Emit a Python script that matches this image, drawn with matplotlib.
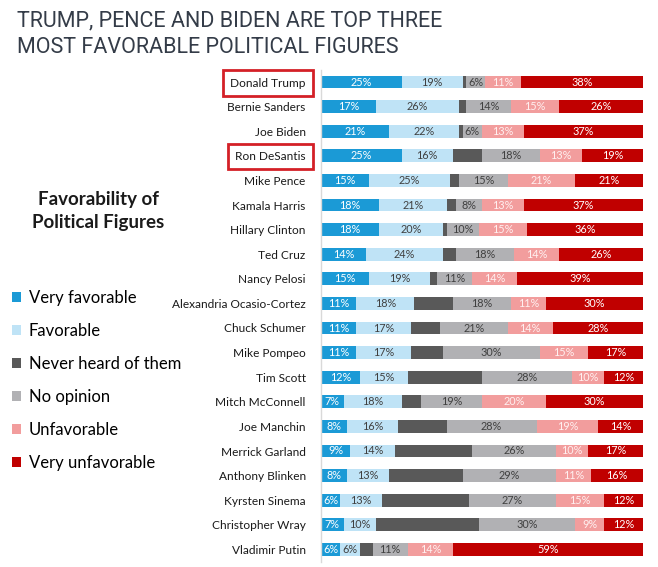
import matplotlib
matplotlib.use("Agg")
import matplotlib.pyplot as plt
from matplotlib.patches import Patch
import numpy as np

plt.rcParams['font.family'] = ['Lato', 'DejaVu Sans']

names = ["Donald Trump", "Bernie Sanders", "Joe Biden", "Ron DeSantis", "Mike Pence",
         "Kamala Harris", "Hillary Clinton", "Ted Cruz", "Nancy Pelosi",
         "Alexandria Ocasio-Cortez", "Chuck Schumer", "Mike Pompeo", "Tim Scott",
         "Mitch McConnell", "Joe Manchin", "Merrick Garland", "Anthony Blinken",
         "Kyrsten Sinema", "Christopher Wray", "Vladimir Putin"]

very_fav = [25, 17, 21, 25, 15, 18, 18, 14, 15, 11, 11, 11, 12, 7, 8, 9, 8, 6, 7, 6]
fav = [19, 26, 22, 16, 25, 21, 20, 24, 19, 18, 17, 17, 15, 18, 16, 14, 13, 13, 10, 6]
never_heard = [1, 2, 1, 9, 3, 3, 1, 4, 2, 12, 9, 10, 23, 6, 15, 24, 23, 27, 32, 4]
no_opinion = [6, 14, 6, 18, 15, 8, 10, 18, 11, 18, 21, 30, 28, 19, 28, 26, 29, 27, 30, 11]
unfav = [11, 15, 13, 13, 21, 13, 15, 14, 14, 11, 14, 15, 10, 20, 19, 10, 11, 15, 9, 14]
very_unfav = [38, 26, 37, 19, 21, 37, 36, 26, 39, 30, 28, 17, 12, 30, 14, 17, 16, 12, 12, 59]

series_labels = ["Very favorable", "Favorable", "Never heard of them",
                 "No opinion", "Unfavorable", "Very unfavorable"]
series = [very_fav, fav, never_heard, no_opinion, unfav, very_unfav]
colors = ["#1b9ad6", "#bfe3f6", "#595959", "#b1b1b4", "#f29d9d", "#c00000"]
text_colors = ["white", "#404040", None, "#404040", "#fff0f0", "white"]
highlight = ["Donald Trump", "Ron DeSantis"]
title_lines = ["TRUMP, PENCE AND BIDEN ARE TOP THREE", "MOST FAVORABLE POLITICAL FIGURES"]

fig = plt.figure(figsize=(6.58, 5.67), dpi=100)
ax = fig.add_axes([321 / 658, 1 - 561.7 / 567, 322 / 658, 492 / 567])

y = np.arange(len(names))
left = np.zeros(len(names))
for vals, col, tcol in zip(series, colors, text_colors):
    vals = np.array(vals, dtype=float)
    ax.barh(y, vals, left=left, height=0.52, color=col)
    if tcol is not None:
        for yi, (l, v) in enumerate(zip(left, vals)):
            ax.text(l + v / 2, yi, f"{int(v)}%", ha="center", va="center",
                    fontsize=7.8, color=tcol)
    left += vals

ax.set_xlim(0, 100)
ax.set_ylim(len(names) - 0.5, -0.5)
ax.set_yticks(y)
ax.set_yticklabels(names, fontsize=8.6, color="#1a1a1a")
ax.tick_params(axis="y", length=0, pad=11)
ax.set_xticks([])
for s in ["top", "right", "bottom"]:
    ax.spines[s].set_visible(False)
ax.spines["left"].set_color("#d9d9d9")
ax.spines["left"].set_linewidth(1)

for lbl in ax.get_yticklabels():
    if lbl.get_text() in highlight:
        lbl.set_bbox(dict(boxstyle="square,pad=0.6", fc="none", ec="#d42027", lw=2))

# title, one line per text so baselines sit where the reference has them
for line, base in zip(title_lines, [26, 53]):
    fig.text(17 / 658, 1 - base / 567, line, fontsize=15.5, color="#343c48",
             va="baseline", ha="left", family=["Roboto", "Lato"])

fig.text(98 / 658, 1 - 211 / 567, "Favorability of\nPolitical Figures", fontsize=13.5,
         fontweight="bold", color="#1a1a1a", ha="center", va="center", linespacing=1.4)

handles = [Patch(facecolor=c, edgecolor="none") for c in colors]
fig.legend(handles, series_labels, loc="upper left", bbox_to_anchor=(12 / 658, 1 - 290 / 567),
           frameon=False, fontsize=12, handlelength=0.55, handleheight=0.55,
           handletextpad=0.45, labelspacing=1.02, borderaxespad=0, borderpad=0)

fig.savefig("out.png", dpi=100, facecolor="white")
